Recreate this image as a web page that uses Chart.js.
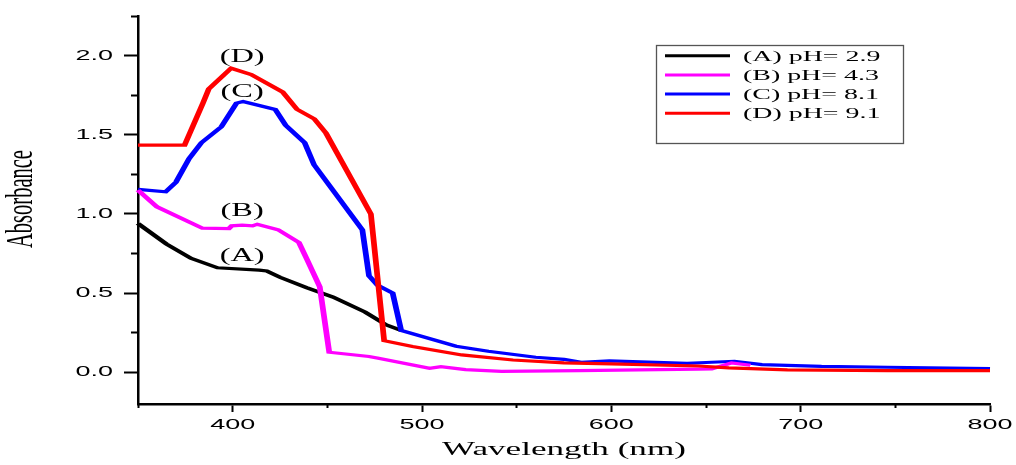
<!DOCTYPE html>
<html>
<head>
<meta charset="utf-8">
<script src="https://cdn.jsdelivr.net/npm/chart.js@4.4.1/dist/chart.umd.min.js"></script>
<style>
  html, body { margin: 0; padding: 0; background: #ffffff; }
  #wrap { width: 1016px; height: 465px; }
  canvas { display: block; }
</style>
</head>
<body>
<div id="wrap"><canvas id="c" width="1016" height="465" style="width:1016px;height:465px"></canvas></div>
<script>
// ---------------- data ----------------
const wavelengthA = [350, 365, 378, 392, 414, 418, 425, 439, 453, 470, 481, 489];
const absorbanceA = [0.94, 0.81, 0.72, 0.66, 0.645, 0.64, 0.60, 0.535, 0.475, 0.38, 0.30, 0.265];

const wavelengthB = [350, 360, 384, 398, 399.5, 405, 410.5, 413, 424, 435, 439, 446, 451, 472, 477, 504, 510, 523, 542, 583, 646, 653, 663.5, 673.5];
const absorbanceB = [1.15, 1.045, 0.91, 0.908, 0.925, 0.93, 0.925, 0.935, 0.90, 0.82, 0.72, 0.54, 0.127, 0.10, 0.089, 0.025, 0.036, 0.017, 0.006, 0.011, 0.02, 0.021, 0.06, 0.045];

const wavelengthC = [350, 364.6, 370, 377, 383.5, 394, 402, 405.5, 422.5, 428, 438, 443, 468.5, 472, 476.5, 484.5, 489, 518, 535, 560, 575, 584, 599, 640, 650, 665, 679.5, 711, 746, 800];
const absorbanceC = [1.155, 1.14, 1.20, 1.35, 1.45, 1.55, 1.70, 1.71, 1.66, 1.56, 1.45, 1.31, 0.90, 0.61, 0.55, 0.50, 0.265, 0.165, 0.133, 0.095, 0.082, 0.063, 0.072, 0.057, 0.062, 0.07, 0.049, 0.038, 0.032, 0.023];

const wavelengthD = [350, 374.6, 384.3, 387.4, 399.2, 409.8, 426.4, 434, 443.1, 449.3, 473, 480, 495, 521, 548, 575, 600, 646, 662, 693, 746, 800];
const absorbanceD = [1.435, 1.435, 1.70, 1.79, 1.92, 1.88, 1.77, 1.66, 1.60, 1.51, 1.00, 0.20, 0.163, 0.11, 0.078, 0.06, 0.053, 0.04, 0.028, 0.015, 0.011, 0.011];

const seriesLabels = ['(A) pH= 2.9', '(B) pH= 4.3', '(C) pH= 8.1', '(D) pH= 9.1'];
const seriesColors = ['#000000', '#ff00ff', '#0000ff', '#ff0000'];

const curveTags = ['(A)', '(B)', '(C)', '(D)'];
const curveTagWavelength = [405, 405, 405, 405];
const curveTagAbsorbance = [0.736, 1.02, 1.768, 1.99];

const xMajorTicks = [400, 500, 600, 700, 800];
const xMinorTicks = [350, 450, 550, 650, 750];
const yMajorTicks = [0.0, 0.5, 1.0, 1.5, 2.0];
const yMinorTicks = [0.25, 0.75, 1.25, 1.75, 2.25];

const xTitle = 'Wavelength (nm)';
const yTitle = 'Absorbance';

// ---------------- horizontal stretch of the original figure ----------------
const SX = 1.8;
const canvas = document.getElementById('c');
const ctx = canvas.getContext('2d');
const nativeFill = CanvasRenderingContext2D.prototype.fillText;
const nativeStroke = CanvasRenderingContext2D.prototype.stroke;
let penStretch = false;

ctx.fillText = function (text, x, y, maxWidth) {
  const m = this.getTransform();
  const p = m.transformPoint(new DOMPoint(x, y));
  this.save();
  this.setTransform(new DOMMatrix().translate(p.x, p.y).scale(SX, 1).translate(-p.x, -p.y).multiply(m));
  if (maxWidth === undefined || maxWidth === null) nativeFill.call(this, text, x, y);
  else nativeFill.call(this, text, x, y, maxWidth);
  this.restore();
};

ctx.stroke = function (path) {
  if (!penStretch) return path ? nativeStroke.call(this, path) : nativeStroke.call(this);
  const m = this.getTransform();
  const S = new DOMMatrix([SX, 0, 0, 1, 0, 0]);
  this.setTransform(S.multiply(m));
  if (path) {
    const p2 = new Path2D();
    p2.addPath(path, m.inverse().multiply(S.inverse()).multiply(m));
    nativeStroke.call(this, p2);
  } else {
    nativeStroke.call(this);
  }
  this.setTransform(m);
};

// ---------------- chart ----------------
function pairs(xs, ys) { return xs.map((x, i) => ({ x: x, y: ys[i] })); }
const drawOrder = [3, 1, 2, 0];

const datasets = [
  pairs(wavelengthA, absorbanceA),
  pairs(wavelengthB, absorbanceB),
  pairs(wavelengthC, absorbanceC),
  pairs(wavelengthD, absorbanceD)
].map((d, i) => ({
  label: seriesLabels[i],
  data: d,
  borderColor: seriesColors[i],
  backgroundColor: seriesColors[i],
  borderWidth: 3.2,
  pointRadius: 0,
  tension: 0,
  fill: false,
  clip: false,
  order: drawOrder[i]
}));

const tickFont = { family: "'Liberation Sans', Arial, sans-serif", size: 15 };
const serif = "'Liberation Serif', 'Times New Roman', serif";

const decor = {
  id: 'decor',
  beforeDatasetsDraw() { penStretch = true; },
  afterDatasetsDraw(chart) {
    penStretch = false;
    const c = chart.ctx, xs = chart.scales.x, ys = chart.scales.y;
    c.save();
    c.fillStyle = '#000';
    c.font = '18px ' + serif;
    c.textAlign = 'center';
    c.textBaseline = 'middle';
    curveTags.forEach((t, i) => {
      c.fillText(t, xs.getPixelForValue(curveTagWavelength[i]), ys.getPixelForValue(curveTagAbsorbance[i]));
    });
    c.restore();
  },
  afterDraw(chart) {
    const c = chart.ctx, area = chart.chartArea;
    c.save();
    // axis titles
    c.fillStyle = '#000';
    c.font = '19.5px ' + serif;
    c.textAlign = 'center';
    c.textBaseline = 'alphabetic';
    c.fillText(xTitle, (area.left + area.right) / 2, 455);
    c.save();
    c.translate(22, 199);
    c.rotate(-Math.PI / 2);
    c.font = '20.5px ' + serif;
    c.textBaseline = 'middle';
    c.fillText(yTitle, 0, 0);
    c.restore();
    // legend box
    c.strokeStyle = '#555';
    c.lineWidth = 1.3;
    c.strokeRect(656.5, 45.5, 247, 98);
    c.font = '15.5px ' + serif;
    c.textAlign = 'left';
    c.textBaseline = 'alphabetic';
    chart.data.datasets.forEach((ds, i) => {
      const yy = 55.7 + i * 19.2;
      c.strokeStyle = ds.borderColor;
      c.lineWidth = 3;
      c.beginPath();
      c.moveTo(665, yy);
      c.lineTo(730, yy);
      c.stroke();
      c.fillStyle = '#000';
      c.fillText(ds.label, 743, yy + 5);
    });
    c.restore();
  }
};

function setTicks(list) { return s => { s.ticks = list.map(v => ({ value: v })); }; }

new Chart(ctx, {
  type: 'line',
  data: { datasets: datasets },
  plugins: [decor],
  options: {
    responsive: false,
    devicePixelRatio: 1,
    animation: false,
    events: [],
    layout: { padding: { top: 16, right: 26, bottom: 0, left: 0 } },
    plugins: { legend: { display: false }, tooltip: { enabled: false }, title: { display: false } },
    scales: {
      x: {
        type: 'linear', position: 'bottom', min: 350, max: 800,
        afterBuildTicks: setTicks(xMajorTicks),
        afterFit: s => { s.height = 61; s.paddingLeft = 0; s.paddingRight = 0; },
        grid: { drawOnChartArea: false, drawTicks: true, tickLength: 8, tickWidth: 2, tickColor: '#000' },
        border: { display: true, color: '#000', width: 2.5 },
        ticks: { padding: 4, color: '#000', font: tickFont, maxRotation: 0, autoSkip: false, callback: v => String(v) },
        title: { display: false }
      },
      xMinor: {
        type: 'linear', axis: 'x', position: { y: -0.2 }, min: 350, max: 800,
        afterBuildTicks: setTicks(xMinorTicks),
        grid: { drawOnChartArea: false, drawTicks: true, tickLength: 4, tickWidth: 2, tickColor: '#000' },
        border: { display: false },
        ticks: { display: false }
      },
      y: {
        type: 'linear', position: 'left', min: -0.2, max: 2.25,
        afterBuildTicks: setTicks(yMajorTicks),
        afterFit: s => { s.width = 138; s.paddingTop = 0; s.paddingBottom = 0; },
        grid: { drawOnChartArea: false, drawTicks: true, tickLength: 14, tickWidth: 2, tickColor: '#000' },
        border: { display: true, color: '#000', width: 2.5 },
        ticks: { padding: 11, color: '#000', font: tickFont, autoSkip: false, callback: v => Number(v).toFixed(1) },
        title: { display: false }
      },
      yMinor: {
        type: 'linear', axis: 'y', position: { x: 350 }, min: -0.2, max: 2.25,
        afterBuildTicks: setTicks(yMinorTicks),
        grid: { drawOnChartArea: false, drawTicks: true, tickLength: 7, tickWidth: 2, tickColor: '#000' },
        border: { display: false },
        ticks: { display: false }
      }
    }
  }
});
</script>
</body>
</html>
